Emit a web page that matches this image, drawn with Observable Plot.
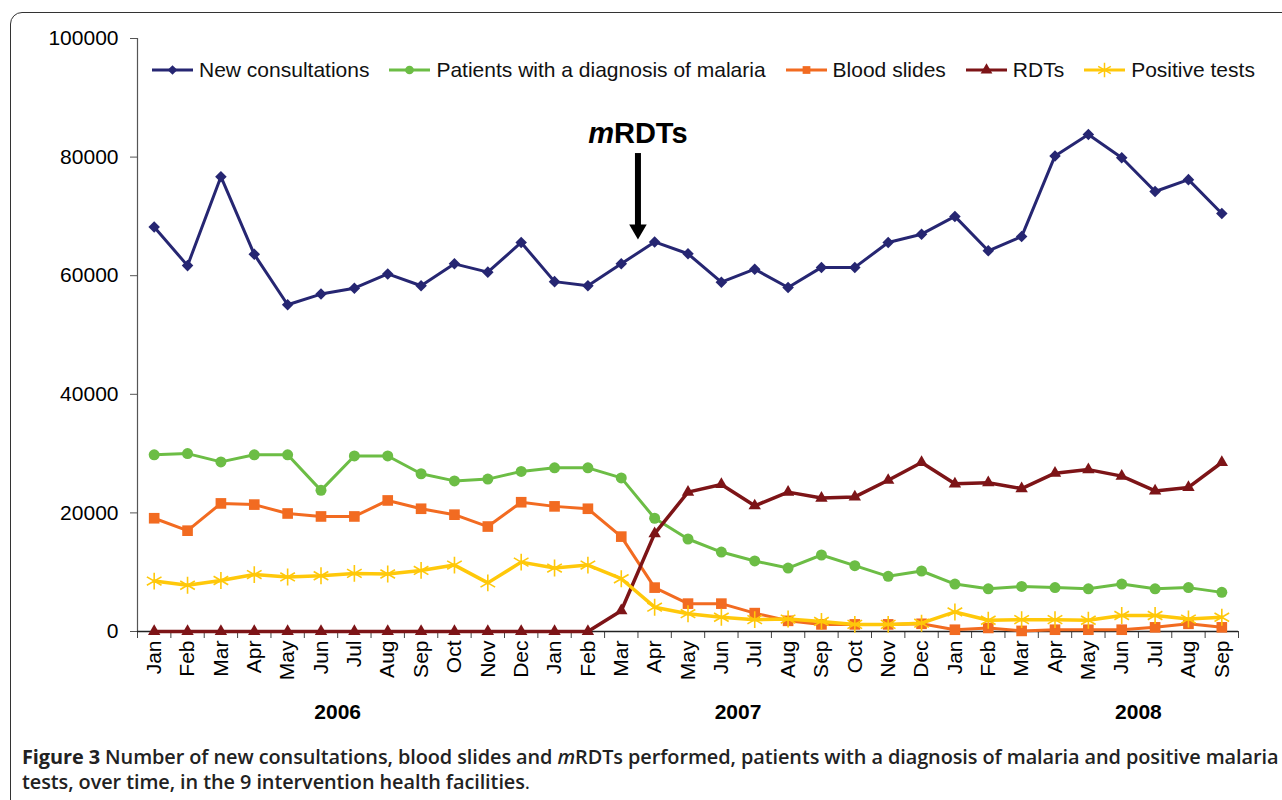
<!DOCTYPE html>
<html><head><meta charset="utf-8">
<script src="https://cdn.jsdelivr.net/npm/d3@7"></script>
<script src="https://cdn.jsdelivr.net/npm/@observablehq/plot@0.6"></script>
<style>
body{margin:0;background:#fff;width:1282px;height:800px;overflow:hidden;position:relative;font-family:"Liberation Sans",Arial,sans-serif;}
#frame{position:absolute;left:10px;top:12px;width:1320px;height:820px;border:1.5px solid #333;border-radius:12px 0 0 0;box-sizing:border-box;}
#chart{position:absolute;left:0;top:0;}
#legend{position:absolute;left:152px;top:58px;display:flex;align-items:center;font-size:21px;color:#111;white-space:nowrap;}
#legend .item{display:flex;align-items:center;margin-right:20px;}
#legend svg{margin-right:6px;}
#caption{position:absolute;left:22px;top:744px;font-family:"Open Sans",sans-serif;font-size:19.9px;font-weight:600;line-height:25px;color:#222;white-space:nowrap;letter-spacing:-0.08px;}
#caption b{font-weight:700;}
</style></head>
<body>
<div id="frame"></div>
<div id="chart"></div>
<div id="legend"></div>
<div id="caption"><b>Figure 3</b> Number of new consultations, blood slides and <i>m</i>RDTs performed, patients with a diagnosis of malaria and positive malaria<br>tests, over time, in the 9 intervention health facilities<span style="font-weight:400">.</span></div>
<script>
// Category labels (Jan 2006 – Sep 2008)
const months = ["Jan","Feb","Mar","Apr","May","Jun","Jul","Aug","Sep","Oct","Nov","Dec",
                "Jan","Feb","Mar","Apr","May","Jun","Jul","Aug","Sep","Oct","Nov","Dec",
                "Jan","Feb","Mar","Apr","May","Jun","Jul","Aug","Sep"];
const years = ["2006","2007","2008"];
const yearPositions = [5.5, 17.5, 29.5];
const yTicks = [0, 20000, 40000, 60000, 80000, 100000];

// Series values
const newConsultations = [68200,61700,76700,63600,55100,56900,57900,60300,58300,62000,60600,65600,
                          59000,58300,62000,65700,63700,58900,61100,58000,61400,61400,65600,67000,
                          70000,64200,66600,80200,83800,79900,74200,76200,70500];
const malariaDiagnosis = [29800,30000,28600,29800,29800,23800,29600,29600,26600,25400,25700,27000,
                          27600,27600,25900,19100,15600,13400,11900,10700,12900,11100,9300,10200,
                          8000,7200,7600,7400,7200,8000,7200,7400,6600];
const bloodSlides = [19100,17000,21600,21400,19900,19400,19400,22100,20700,19700,17700,21800,
                     21100,20700,16000,7400,4700,4700,3100,1800,1200,1200,1200,1300,
                     300,600,100,300,300,300,700,1300,700];
const rdts = [0,0,0,0,0,0,0,0,0,0,0,0,
              0,0,3500,16500,23500,24800,21200,23500,22500,22700,25500,28500,
              24900,25100,24100,26700,27300,26200,23700,24300,28500];
const positiveTests = [8500,7800,8600,9600,9200,9400,9800,9700,10300,11200,8200,11700,
                       10700,11200,8900,4100,3000,2400,2000,2100,1700,1200,1200,1400,
                       3300,1900,2000,2000,1900,2700,2700,2100,2400];

const seriesNames = ["New consultations","Patients with a diagnosis of malaria","Blood slides","RDTs","Positive tests"];
const seriesValues = [newConsultations, malariaDiagnosis, bloodSlides, rdts, positiveTests];
const seriesColors = ["#262672","#6cbd45","#f26b21","#7d1417","#ffc80a"];
const seriesSymbols = ["diamond2","circle","square","triangle","asterisk"];
const seriesR = [5.2, 5.5, 6, 4.6, 8];
const seriesWidths = [3, 3, 3, 3.5, 3.5];

// Annotation
const annotation = [{x: 14.5, label: 84000, top: 80600, head: 67800}];

const idx = months.map((_, i) => i);
const boundaries = d3.range(-0.5, 33, 1);

const marks = [
  Plot.axisY(yTicks, {tickSize: 7, tickPadding: 12, tickFormat: d => String(d), stroke: "#555", fontSize: 21}),
  Plot.ruleX([-0.5], {stroke: "#555", strokeWidth: 1.2}),
  Plot.axisX(boundaries, {tickSize: 7, tickFormat: () => "", stroke: "#444"}),
  Plot.axisX(idx, {tickSize: 0, tickPadding: 9, tickRotate: -90, tickFormat: i => months[i], fontSize: 21}),
  Plot.ruleY([0], {stroke: "#222", strokeWidth: 1.5})
];

seriesValues.forEach((vals, s) => {
  const rows = vals.map((v, i) => ({i, v}));
  marks.push(Plot.line(rows, {x: "i", y: "v", stroke: seriesColors[s], strokeWidth: seriesWidths[s]}));
  if (seriesSymbols[s] === "asterisk") {
    marks.push(Plot.dot(rows, {x: "i", y: "v", symbol: "asterisk", r: seriesR[s], stroke: seriesColors[s], strokeWidth: 1.6, fill: "none"}));
  } else {
    marks.push(Plot.dot(rows, {x: "i", y: "v", symbol: seriesSymbols[s], r: seriesR[s], fill: seriesColors[s], stroke: "none"}));
  }
});

marks.push(
  Plot.text(years, {x: (d, i) => yearPositions[i], y: () => 0, dy: 81, text: d => d, fontWeight: "bold", fontSize: 21, fill: "#000"}),
  Plot.ruleX(annotation, {x: "x", y1: "top", y2: "head", stroke: "#000", strokeWidth: 6}),
  Plot.dot(annotation, {x: "x", y: "head", symbol: "triangle", rotate: 180, r: 6.5, fill: "#000", stroke: "none"}),
  Plot.text(annotation, {x: "x", y: "label", text: () => "m", textAnchor: "end", dx: -24, fontStyle: "italic", fontWeight: "bold", fontSize: 29, fill: "#000"}),
  Plot.text(annotation, {x: "x", y: "label", text: () => "RDTs", textAnchor: "start", dx: -24, fontWeight: "bold", fontSize: 29, fill: "#000"})
);

const chart = Plot.plot({
  width: 1282, height: 720,
  marginLeft: 137, marginRight: 44, marginTop: 38, marginBottom: 89,
  style: {fontFamily: "'Liberation Sans', Arial, sans-serif", fontSize: "21px", color: "#000", background: "transparent", overflow: "visible"},
  x: {type: "linear", domain: [-0.5, 32.5]},
  y: {domain: [0, 100000]},
  marks
});
document.getElementById("chart").appendChild(chart);

// Legend
const legend = d3.select("#legend");
seriesNames.forEach((name, s) => {
  const item = legend.append("div").attr("class", "item");
  const svg = item.append("svg").attr("width", 41).attr("height", 20);
  svg.append("line").attr("x1", 0).attr("x2", 41).attr("y1", 10).attr("y2", 10).attr("stroke", seriesColors[s]).attr("stroke-width", 3);
  const sym = {diamond2: d3.symbolDiamond2, circle: d3.symbolCircle, square: d3.symbolSquare, triangle: d3.symbolTriangle, asterisk: d3.symbolAsterisk}[seriesSymbols[s]];
  const size = seriesSymbols[s] === "asterisk" ? 150 : 60;
  const p = svg.append("path").attr("transform", "translate(20.5,10)").attr("d", d3.symbol(sym, size)());
  if (seriesSymbols[s] === "asterisk") p.attr("fill", "none").attr("stroke", seriesColors[s]).attr("stroke-width", 1.5);
  else p.attr("fill", seriesColors[s]);
  item.append("span").text(name);
});
</script>
</body></html>
